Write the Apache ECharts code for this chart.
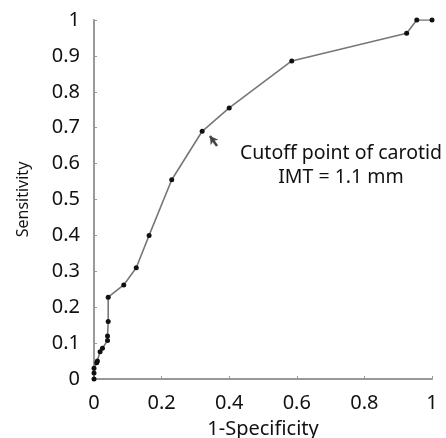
<!DOCTYPE html>
<html><head><meta charset="utf-8">
<script src="https://cdn.jsdelivr.net/npm/echarts@6/dist/echarts.min.js"></script>
<style>html,body{margin:0;padding:0;background:#fff}#c{width:446px;height:438px}</style>
</head><body><div id="c"></div>
<script>
var fpr = [0, 0, 0, 0.008, 0.01, 0.018, 0.025, 0.04, 0.04, 0.042, 0.042, 0.088, 0.125, 0.163, 0.23, 0.32, 0.40, 0.585, 0.925, 0.955, 1];
var tpr = [0, 0.017, 0.03, 0.045, 0.05, 0.076, 0.086, 0.107, 0.12, 0.16, 0.228, 0.262, 0.31, 0.40, 0.555, 0.69, 0.755, 0.886, 0.963, 1, 1];
var xTicks = [0, 0.2, 0.4, 0.6, 0.8, 1];
var yTicks = [0, 0.1, 0.2, 0.3, 0.4, 0.5, 0.6, 0.7, 0.8, 0.9, 1];
var arrowFrom = [0.364, 0.649];
var arrowTo = [0.343, 0.677];
var noteLines = ['Cutoff point of carotid', 'IMT = 1.1 mm'];

var pts = fpr.map(function (x, i) { return [x, tpr[i]]; });
var font = 'Noto Sans';
var chart = echarts.init(document.getElementById('c'));
chart.setOption({
  animation: false,
  grid: { left: 94, right: 14, top: 20, bottom: 59, containLabel: false, outerBoundsMode: 'none' },
  xAxis: {
    type: 'value', min: 0, max: 1, interval: 0.2,
    name: '1-Specificity', nameLocation: 'middle', nameGap: 40,
    nameTextStyle: { fontFamily: font, fontSize: 20, color: '#111' },
    axisLine: { show: true, lineStyle: { color: '#999', width: 2 } },
    axisTick: { show: true, inside: true, length: 3, lineStyle: { color: '#999' } },
    axisLabel: { fontFamily: font, fontSize: 20, color: '#111', margin: 14,
      formatter: function (v) { return xTicks.indexOf(v) >= 0 ? String(v) : ''; } },
    splitLine: { show: false }
  },
  yAxis: {
    type: 'value', min: 0, max: 1, interval: 0.1,
    name: 'Sensitivity', nameLocation: 'middle', nameGap: 63,
    nameTextStyle: { fontFamily: font, fontSize: 16, color: '#111' },
    axisLine: { show: true, lineStyle: { color: '#999', width: 2 } },
    axisTick: { show: true, inside: true, length: 3, lineStyle: { color: '#999' } },
    axisLabel: { fontFamily: font, fontSize: 20, color: '#111', margin: 14,
      formatter: function (v) { var r = Math.round(v * 10) / 10; return yTicks.indexOf(r) >= 0 ? String(r) : ''; } },
    splitLine: { show: false }
  },
  series: [{
    type: 'line',
    data: pts,
    symbol: 'circle', symbolSize: 5,
    itemStyle: { color: '#111' },
    lineStyle: { color: '#777', width: 1.6 },
    markLine: {
      silent: true,
      symbol: ['arrow', 'none'], symbolSize: [7, 8],
      label: { show: false },
      lineStyle: { color: '#444', width: 2.5, type: 'solid' },
      data: [[{ coord: arrowTo }, { coord: arrowFrom }]]
    }
  }],
  graphic: [
    { type: 'text', x: 341, y: 153, style: { text: noteLines[0], fontFamily: font, fontSize: 19.5, fill: '#111', textAlign: 'center', textVerticalAlign: 'middle' } },
    { type: 'text', x: 341, y: 177, style: { text: noteLines[1], fontFamily: font, fontSize: 19.5, fill: '#111', textAlign: 'center', textVerticalAlign: 'middle' } }
  ]
});
</script></body></html>
